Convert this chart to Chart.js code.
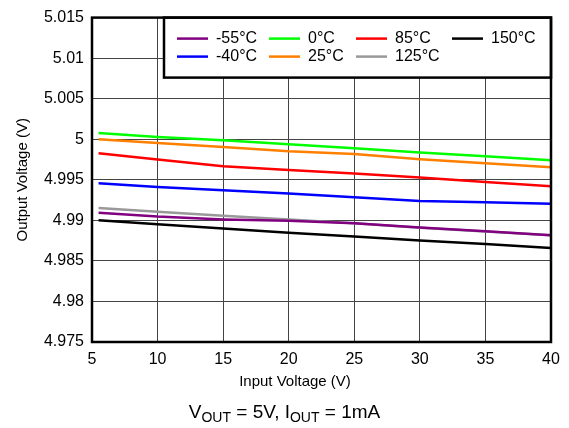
<!DOCTYPE html>
<html>
<head>
<meta charset="utf-8">
<script src="https://cdn.jsdelivr.net/npm/chart.js@4"></script>
<style>
  html, body { margin: 0; padding: 0; background: #fff; }
  #wrap { position: relative; width: 569px; height: 428px; }
</style>
</head>
<body>
<div id="wrap"><canvas id="lineChart" width="569" height="428"></canvas></div>
<script>
// Input voltage (V)
const inputVoltage = [5.5, 10, 15, 20, 25, 30, 35, 40];

// Output voltage (V) per temperature
const tempM55 = [4.99095, 4.99046, 4.99012, 4.98995, 4.98963, 4.98911, 4.98865, 4.98816];
const tempM40 = [4.99457, 4.99411, 4.99370, 4.99330, 4.99284, 4.99238, 4.99222, 4.99206];
const temp0   = [5.00078, 5.00028, 4.99988, 4.99938, 4.99889, 4.99836, 4.99790, 4.99741];
const temp25  = [5.00000, 4.99954, 4.99905, 4.99852, 4.99819, 4.99753, 4.99704, 4.99654];
const temp85  = [4.99827, 4.99749, 4.99667, 4.99621, 4.99577, 4.99527, 4.99473, 4.99420];
const temp125 = [4.99152, 4.99107, 4.99058, 4.99009, 4.98963, 4.98910, 4.98864, 4.98815];
const temp150 = [4.99000, 4.98951, 4.98898, 4.98848, 4.98802, 4.98753, 4.98707, 4.98658];

const seriesLabels = ['-55°C', '-40°C', '0°C', '25°C', '85°C', '125°C', '150°C'];
const seriesColors = ['#800080', '#0000ff', '#00ff00', '#ff7f00', '#ff0000', '#999999', '#000000'];
const seriesValues = [tempM55, tempM40, temp0, temp25, temp85, temp125, temp150];

const FONT = '"Liberation Sans", Arial, sans-serif';

function toPoints(ys) {
  return ys.map((y, i) => ({ x: inputVoltage[i], y: y }));
}

// legend box inside the plot, plus frame and titles
const decorPlugin = {
  id: 'decor',
  afterDraw(chart) {
    const c = chart.ctx;
    const a = chart.chartArea;
    c.save();

    // legend box
    const bx = 164, by = a.top, bw = a.right - 164, bh = 60;
    c.fillStyle = '#fff';
    c.fillRect(bx, by, bw, bh);
    c.lineWidth = 2.5;
    c.strokeStyle = '#000';
    c.strokeRect(bx, by, bw, bh);

    // column-wise: -55/-40, 0/25, 85/125, 150
    const colX = [177, 269, 356, 452];
    const rowY = [by + 21, by + 39];
    c.font = '16px ' + FONT;
    c.textBaseline = 'middle';
    c.textAlign = 'left';
    chart.data.datasets.forEach((ds, k) => {
      const col = Math.floor(k / 2), row = k % 2;
      const x = colX[col], y = rowY[row];
      c.strokeStyle = ds.borderColor;
      c.lineWidth = 2.5;
      c.beginPath();
      c.moveTo(x, y);
      c.lineTo(x + 31, y);
      c.stroke();
      c.fillStyle = '#000';
      c.fillText(ds.label, x + 39, y);
    });

    // plot frame
    c.strokeStyle = '#000';
    c.lineWidth = 2.5;
    c.strokeRect(a.left, a.top, a.right - a.left, a.bottom - a.top);

    // axis titles
    c.fillStyle = '#000';
    c.font = '15px ' + FONT;
    c.textAlign = 'center';
    c.textBaseline = 'middle';
    c.fillText('Input Voltage (V)', 295, 382);
    c.save();
    c.translate(23, (a.top + a.bottom) / 2);
    c.rotate(-Math.PI / 2);
    c.fillText('Output Voltage (V)', 0, 0);
    c.restore();

    // caption with subscripts
    const big = '19px ' + FONT, small = '14px ' + FONT;
    const parts = [
      ['V', big, 0], ['OUT', small, 5], [' = 5V, I', big, 0], ['OUT', small, 5], [' = 1mA', big, 0]
    ];
    let total = 0;
    parts.forEach(p => { c.font = p[1]; total += c.measureText(p[0]).width; });
    let cx = 284.5 - total / 2;
    c.textAlign = 'left';
    parts.forEach(p => {
      c.font = p[1];
      c.fillText(p[0], cx, 413 + p[2]);
      cx += c.measureText(p[0]).width;
    });

    c.restore();
  }
};

var ctx = document.getElementById('lineChart').getContext('2d');

var chart = new Chart(ctx, {
  type: 'line',
  data: {
    datasets: seriesLabels.map((lab, i) => ({
      label: lab,
      data: toPoints(seriesValues[i]),
      borderColor: seriesColors[i],
      backgroundColor: seriesColors[i],
      borderWidth: 2.5,
      pointRadius: 0,
      fill: false,
      tension: 0
    }))
  },
  options: {
    responsive: false,
    animation: false,
    layout: { padding: { left: 0, right: 18, top: 16, bottom: 0 } },
    plugins: {
      legend: { display: false },
      tooltip: { enabled: false }
    },
    scales: {
      x: {
        type: 'linear',
        min: 5,
        max: 40,
        ticks: {
          stepSize: 5,
          color: '#000',
          font: { family: FONT, size: 16 },
          padding: 8,
          maxRotation: 0
        },
        grid: { color: '#444', lineWidth: 1, drawTicks: false },
        border: { display: false },
        afterFit(scale) { scale.height = 86; }
      },
      y: {
        min: 4.975,
        max: 5.015,
        ticks: {
          stepSize: 0.005,
          color: '#000',
          font: { family: FONT, size: 16 },
          padding: 8,
          callback: v => String(parseFloat(v.toFixed(3)))
        },
        grid: { color: '#444', lineWidth: 1, drawTicks: false },
        border: { display: false },
        afterFit(scale) { scale.width = 92; }
      }
    }
  },
  plugins: [decorPlugin]
});
</script>
</body>
</html>
